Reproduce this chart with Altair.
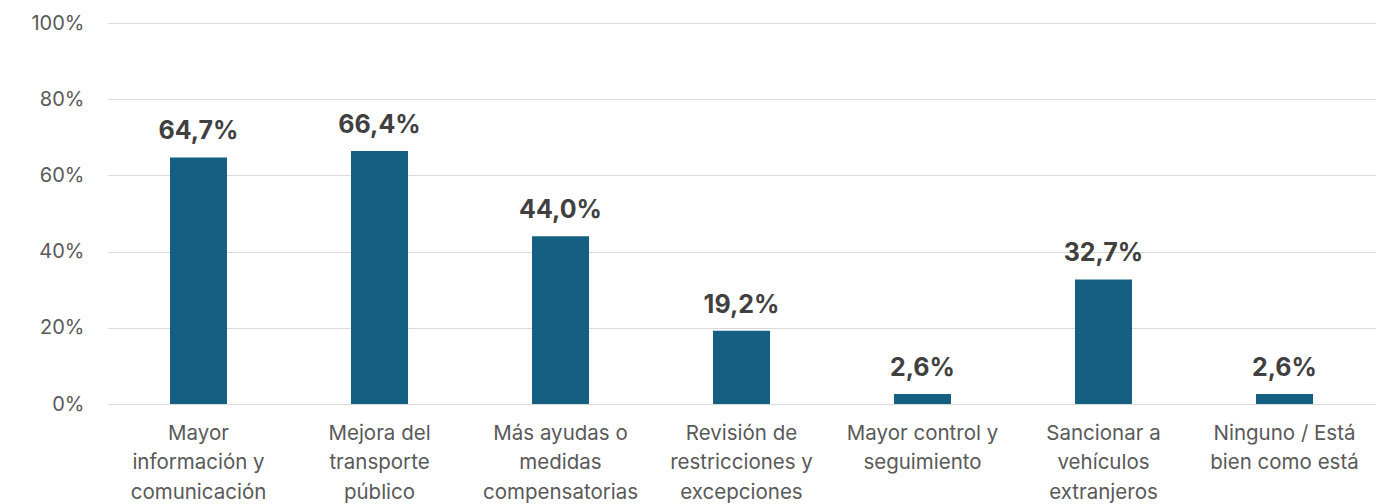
import altair as alt
import pandas as pd

categories = [
    "Mayor|información y|comunicación",
    "Mejora del|transporte|público",
    "Más ayudas o|medidas|compensatorias",
    "Revisión de|restricciones y|excepciones",
    "Mayor control y|seguimiento",
    "Sancionar a|vehículos|extranjeros",
    "Ninguno / Está|bien como está",
]
values = [0.647, 0.664, 0.440, 0.192, 0.026, 0.327, 0.026]

df = pd.DataFrame({
    "cat": categories,
    "val": values,
    "lab": [f"{v*100:.1f}".replace(".", ",") + "%" for v in values],
})

FONT = "Inter"

x = alt.X("cat:N", sort=categories, title=None,
          scale=alt.Scale(paddingInner=0.685, paddingOuter=0.3425),
          axis=alt.Axis(labelExpr="split(datum.label, '|')", labelAngle=0,
                        labelFontSize=20.5, labelColor="#595959", labelFont=FONT,
                        labelLineHeight=29.5, labelPadding=19, ticks=False,
                        domainColor="#d9d9d9", labelLimit=300))
y = alt.Y("val:Q", title=None, scale=alt.Scale(domain=[0, 1]),
          axis=alt.Axis(format=".0%", values=[0, 0.2, 0.4, 0.6, 0.8, 1.0],
                        labelFontSize=20, labelColor="#595959", labelFont=FONT,
                        labelPadding=24, ticks=False, domain=False,
                        gridColor="#d9d9d9", gridWidth=1))

bars = alt.Chart(df).mark_bar(color="#156082").encode(x=x, y=y)
text = alt.Chart(df).mark_text(font=FONT, fontSize=25, fontWeight="bold",
                               color="#404040", dy=-18, baseline="alphabetic").encode(
    x=alt.X("cat:N", sort=categories), y="val:Q", text="lab:N")

chart = (bars + text).properties(
    width=1267, height=381,
    autosize=alt.AutoSizeParams(type="none"),
    padding={"left": 100, "top": 15, "right": 12, "bottom": 100},
).configure_view(stroke=None)

chart.save("out.html", embed_options={"renderer": "svg", "actions": False})
